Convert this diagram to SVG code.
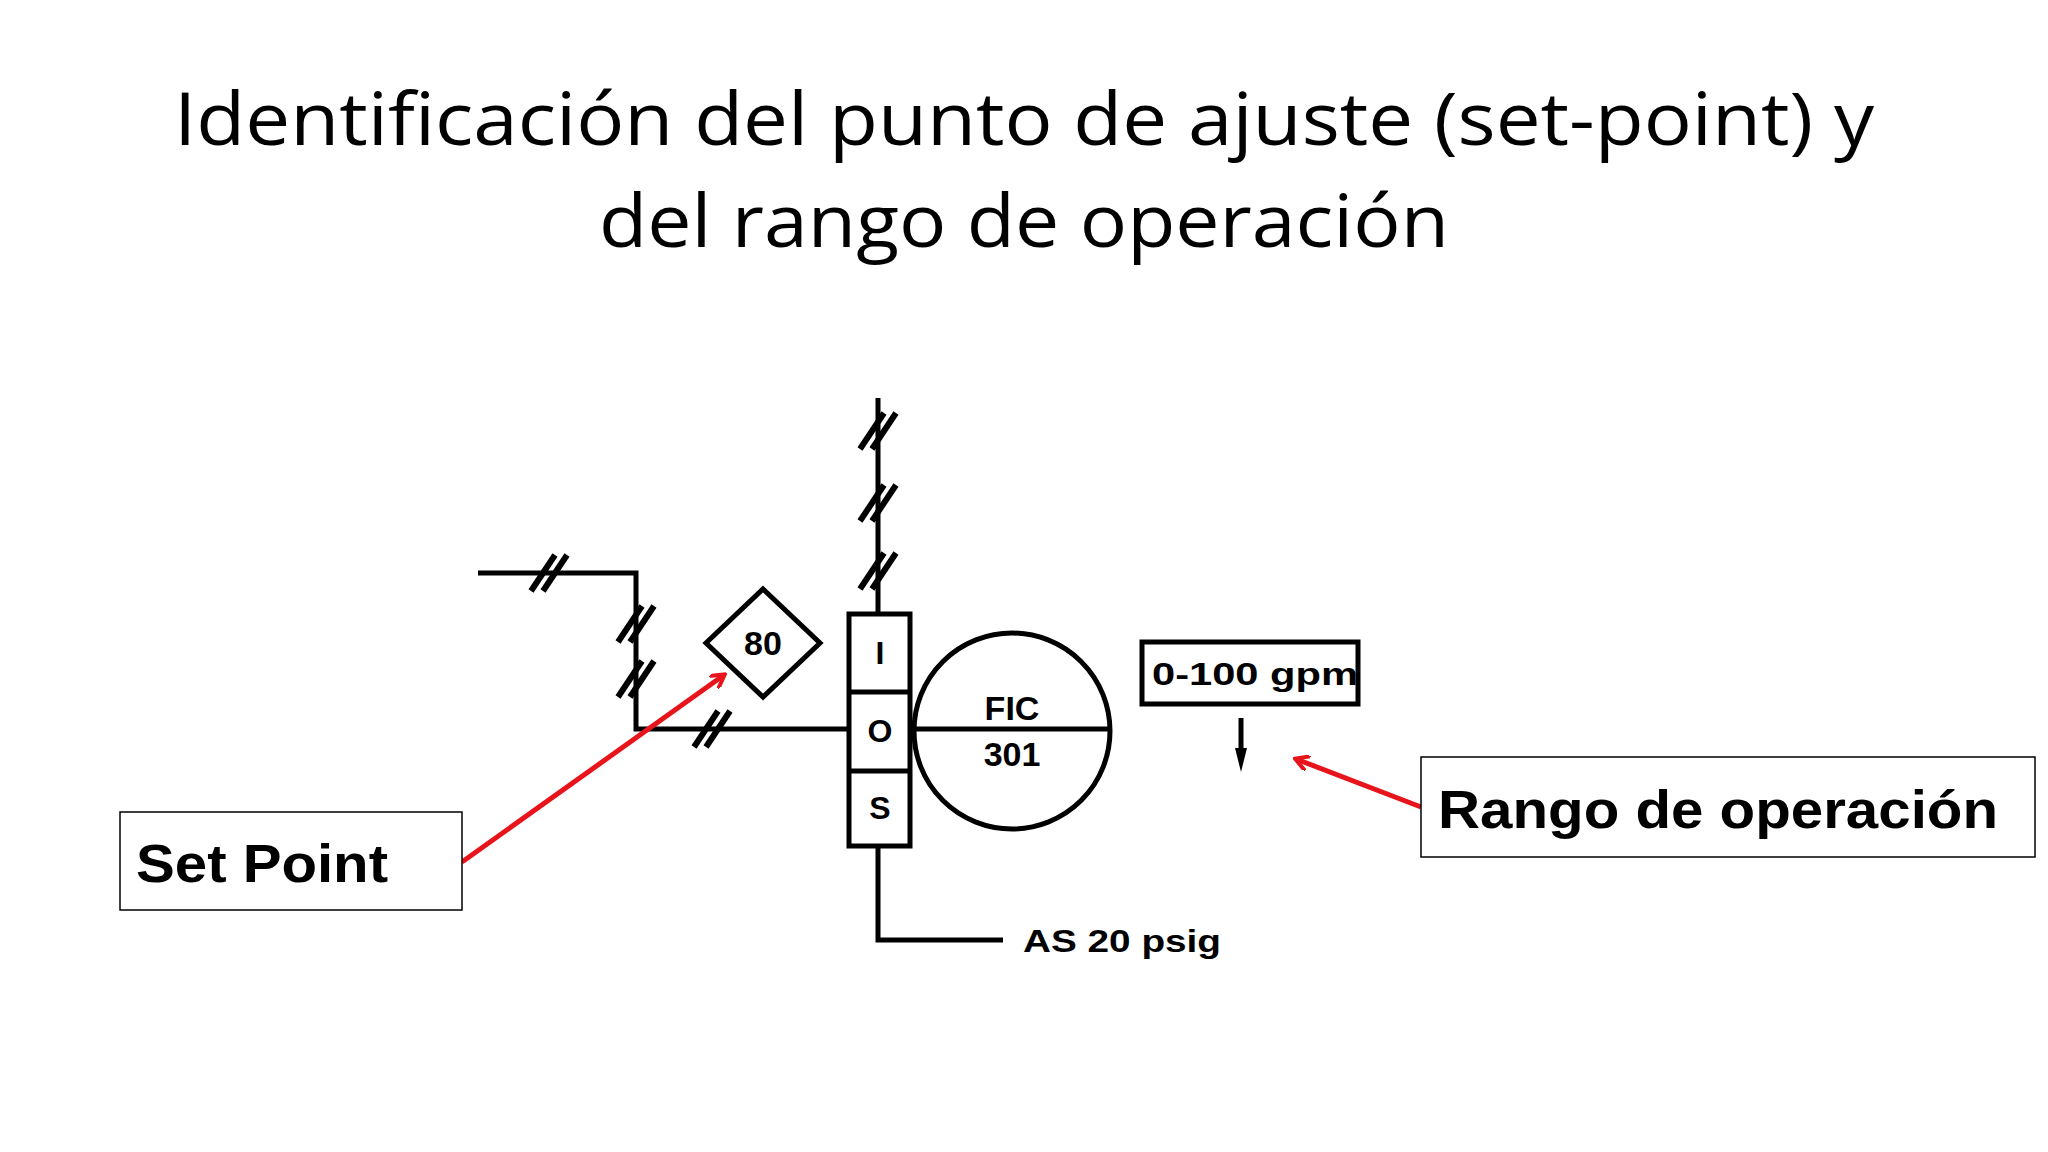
<svg xmlns="http://www.w3.org/2000/svg" xmlns:xlink="http://www.w3.org/1999/xlink" width="2048" height="1152" viewBox="0 0 2048 1152">
<style>
.ln{stroke:#000;stroke-width:5;fill:none}
.bx{stroke:#000;stroke-width:5;fill:#fff}
.lb{font-family:"Liberation Sans",Arial,sans-serif;font-weight:bold;fill:#000}
.ttl{font-family:"Open Sans","Liberation Sans",sans-serif;font-size:74px;fill:#000;text-anchor:middle}
.call{stroke:#000;stroke-width:1.5;fill:#fff}
.red{stroke:#e8141b;stroke-width:5;fill:none}
</style>
<defs>
<g id="hash"><line x1="-18" y1="18" x2="6" y2="-18" stroke="#000" stroke-width="6"/><line x1="-6" y1="18" x2="18" y2="-18" stroke="#000" stroke-width="6"/></g>
<marker id="ah" markerWidth="16" markerHeight="16" refX="13" refY="8" orient="auto" markerUnits="userSpaceOnUse"><path d="M0,0 L14,8 L0,16" fill="none" stroke="#e8141b" stroke-width="4"/></marker>
</defs>
<rect width="2048" height="1152" fill="#fff"/>
<g id="title">
<text class="ttl" x="1024" y="145" textLength="1700" lengthAdjust="spacingAndGlyphs">Identificación del punto de ajuste (set-point) y</text>
<text class="ttl" x="1024" y="247" textLength="850" lengthAdjust="spacingAndGlyphs">del rango de operación</text>
</g>
<g id="connectors">
<polyline class="ln" points="478,573 636,573 636,729 849,729"/>
<line class="ln" x1="878" y1="398" x2="878" y2="614"/>
<polyline class="ln" points="878,846 878,940 1003,940"/>
<line class="ln" x1="910" y1="729" x2="1110" y2="729"/>
<use xlink:href="#hash" x="549" y="573"/>
<use xlink:href="#hash" x="636" y="624"/>
<use xlink:href="#hash" x="636" y="679"/>
<use xlink:href="#hash" x="712" y="729"/>
<use xlink:href="#hash" x="878" y="431"/>
<use xlink:href="#hash" x="878" y="503"/>
<use xlink:href="#hash" x="878" y="571"/>
<line class="ln" x1="1241" y1="718" x2="1241" y2="750"/>
<path d="M1235,748 L1247,748 L1241,772 Z" fill="#000"/>
<line class="red" x1="462" y1="862" x2="724" y2="675" marker-end="url(#ah)"/>
<line class="red" x1="1421" y1="807" x2="1296" y2="759" marker-end="url(#ah)"/>
</g>
<g id="setpoint">
<path class="bx" d="M763,589 L820,643 L763,697 L706,643 Z"/>
<text class="lb" x="763" y="655" font-size="34" text-anchor="middle">80</text>
</g>
<g id="ios">
<rect class="bx" x="849" y="614" width="61" height="232"/>
<line class="ln" x1="849" y1="692" x2="910" y2="692"/>
<line class="ln" x1="849" y1="771" x2="910" y2="771"/>
<text class="lb" x="880" y="664" font-size="32" text-anchor="middle">I</text>
<text class="lb" x="880" y="742" font-size="32" text-anchor="middle">O</text>
<text class="lb" x="880" y="819" font-size="32" text-anchor="middle">S</text>
</g>
<g id="fic">
<circle class="ln" cx="1012" cy="731" r="98"/>
<text class="lb" x="1012" y="720" font-size="34" text-anchor="middle">FIC</text>
<text class="lb" x="1012" y="766" font-size="34" text-anchor="middle">301</text>
</g>
<g id="range">
<rect class="bx" x="1142" y="642" width="216" height="62"/>
<text class="lb" x="1152" y="685" font-size="32" textLength="206" lengthAdjust="spacingAndGlyphs">0-100 gpm</text>
</g>
<g id="as">
<text class="lb" x="1023" y="952" font-size="32" textLength="198" lengthAdjust="spacingAndGlyphs">AS 20 psig</text>
</g>
<g id="setpointlabel">
<rect class="call" x="120" y="812" width="342" height="98"/>
<text class="lb" x="136" y="882" font-size="54" textLength="252" lengthAdjust="spacingAndGlyphs">Set Point</text>
</g>
<g id="rangolabel">
<rect class="call" x="1421" y="757" width="614" height="100"/>
<text class="lb" x="1438" y="828" font-size="54" textLength="560" lengthAdjust="spacingAndGlyphs">Rango de operación</text>
</g>
</svg>
